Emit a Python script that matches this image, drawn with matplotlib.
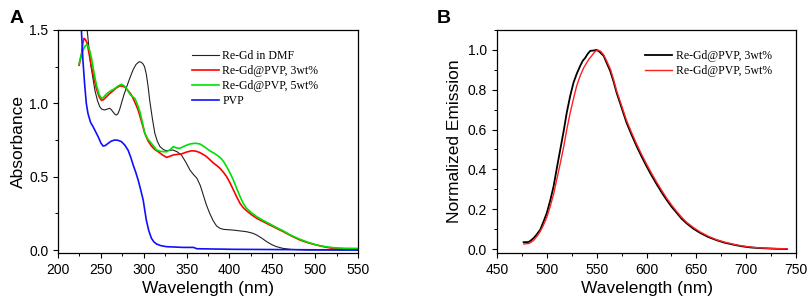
import numpy as np
import matplotlib.pyplot as plt
from matplotlib.ticker import MultipleLocator

# panneau A : absorbance
wl_dmf = [232, 234, 238, 243, 246, 248.7, 251, 254.6, 258, 260.4, 262, 264, 266, 268, 270, 272, 274, 277, 280,
          284, 287.7, 291, 294.7, 297, 299, 301, 303, 305, 307, 310, 313, 316, 319, 323, 326.6, 334, 339, 344,
          349, 354, 358, 362, 366, 369.5, 373, 377, 381, 385, 389, 393, 404.6, 420, 427, 432, 438, 443.6, 449,
          455, 462, 471, 490, 550]
abs_dmf = [1.62, 1.5, 1.27, 1.09, 1.02, 0.977, 0.96, 0.955, 0.962, 0.966, 0.958, 0.943, 0.928, 0.92, 0.93, 0.96,
           1.0, 1.06, 1.11, 1.175, 1.23, 1.265, 1.284, 1.28, 1.27, 1.25, 1.2, 1.12, 1.02, 0.9, 0.795, 0.74, 0.705,
           0.685, 0.677, 0.682, 0.67, 0.648, 0.6, 0.545, 0.515, 0.49, 0.44, 0.375, 0.31, 0.25, 0.2, 0.164, 0.148,
           0.141, 0.136, 0.125, 0.115, 0.102, 0.08, 0.057, 0.038, 0.023, 0.012, 0.005, 0.0, 0.0]

wl_3 = [224.6, 227.3, 229, 230.4, 232, 234, 236.5, 239, 242, 244.8, 248, 250.7, 253, 256.5, 260, 264.3, 268, 272,
        275, 278, 282, 285.7, 289.5, 293.5, 297.5, 301.3, 305, 309, 313, 317, 322, 326.6, 330, 334.5, 339, 344,
        350, 356, 361, 365.6, 369.5, 373.4, 377, 381, 385, 389, 393, 396.8, 400.7, 404.6, 408.5, 412.4, 416,
        420, 426, 432, 440, 447.5, 455, 463, 472, 482.5, 492, 502, 512, 521.5, 535, 550]
abs_3 = [1.26, 1.33, 1.41, 1.443, 1.435, 1.41, 1.33, 1.25, 1.17, 1.10, 1.045, 1.02, 1.025, 1.045, 1.065, 1.086,
         1.105, 1.118, 1.118, 1.11, 1.085, 1.057, 1.01, 0.955, 0.875, 0.795, 0.745, 0.709, 0.685, 0.67, 0.648,
         0.632, 0.638, 0.648, 0.652, 0.655, 0.668, 0.677, 0.674, 0.664, 0.651, 0.636, 0.617, 0.595, 0.577, 0.557,
         0.53, 0.5, 0.458, 0.41, 0.362, 0.318, 0.29, 0.268, 0.24, 0.216, 0.192, 0.17, 0.148, 0.125, 0.097, 0.068,
         0.049, 0.034, 0.02, 0.011, 0.007, 0.005]

wl_5 = [224.6, 227, 229, 231.5, 234, 236.5, 239, 242, 244.8, 248, 250.7, 253, 256.5, 261, 266, 270, 274, 277, 280,
        284.6, 287, 289.6, 292.5, 295.5, 298.5, 301.3, 305, 309, 315, 320, 326.6, 331, 334.5, 338, 342, 348, 354,
        360, 365.6, 371, 377, 383, 389, 393, 396.8, 400.7, 404.6, 408.5, 412.4, 416, 420, 426, 432, 440, 447.5,
        455, 463, 472, 482.5, 492, 502, 512, 521.5, 535, 550]
abs_5 = [1.27, 1.33, 1.36, 1.39, 1.40, 1.37, 1.31, 1.21, 1.125, 1.06, 1.034, 1.04, 1.064, 1.083, 1.10, 1.118, 1.13,
         1.12, 1.10, 1.057, 1.045, 1.034, 0.995, 0.943, 0.87, 0.795, 0.755, 0.727, 0.682, 0.672, 0.67, 0.685, 0.705,
         0.697, 0.693, 0.71, 0.723, 0.728, 0.723, 0.703, 0.677, 0.657, 0.632, 0.605, 0.568, 0.525, 0.477, 0.42,
         0.364, 0.32, 0.284, 0.253, 0.227, 0.2, 0.177, 0.153, 0.13, 0.1, 0.073, 0.052, 0.034, 0.023, 0.016, 0.012,
         0.011]

wl_pvp = [226, 227.3, 229, 231, 233, 235, 238, 241, 244, 246.8, 250, 252.6, 255, 258.5, 262, 266, 270, 274, 278,
          281.8, 285, 287.7, 291, 293.5, 296.5, 299.4, 301, 303, 306, 309, 312, 315, 320, 326.6, 346, 358, 362,
          404.6, 550]
abs_pvp = [1.65, 1.5, 1.3, 1.136, 1.0, 0.93, 0.87, 0.84, 0.805, 0.773, 0.73, 0.709, 0.712, 0.727, 0.742, 0.75, 0.748,
           0.739, 0.715, 0.68, 0.63, 0.58, 0.525, 0.477, 0.41, 0.34, 0.28, 0.205, 0.13, 0.08, 0.055, 0.041, 0.03,
           0.023, 0.018, 0.018, 0.009, 0.005, 0.0]

# panneau B : émission normalisée
wl_em3 = [476.7, 481.7, 484, 486.8, 490, 493.4, 496.5, 500, 503.5, 506.8, 510, 513.5, 517, 520, 523.5, 526.8, 530,
          533.5, 536, 538.5, 541, 543.5, 547, 550, 553, 557, 560, 563.6, 567, 570, 575, 580, 585, 590, 595, 600,
          605, 610, 615, 620, 625, 630.4, 635, 640.4, 647, 653.8, 662, 670.5, 678, 687, 695, 704, 712, 720.6, 730,
          740.7]
em3 = [0.034, 0.035, 0.043, 0.055, 0.074, 0.097, 0.135, 0.181, 0.245, 0.315, 0.405, 0.5, 0.595, 0.685, 0.77, 0.836,
       0.88, 0.92, 0.945, 0.96, 0.98, 0.995, 0.997, 1.0, 0.99, 0.97, 0.935, 0.894, 0.84, 0.785, 0.71, 0.634, 0.574,
       0.517, 0.465, 0.416, 0.37, 0.327, 0.286, 0.248, 0.213, 0.181, 0.153, 0.128, 0.102, 0.081, 0.06, 0.044, 0.032,
       0.022, 0.014, 0.008, 0.005, 0.003, 0.001, 0.0]

wl_em5 = [477, 482, 484.5, 487, 490, 493, 496.5, 500, 503.5, 507, 510, 513.5, 517, 520, 523.5, 527, 530, 533.5, 537,
          540, 542.5, 545, 548, 551, 554, 557, 560, 564, 567, 570, 575, 580, 585, 590, 595, 600, 605, 610, 615, 620,
          625, 630, 635, 640, 647, 654, 662, 670, 678, 687, 695, 704, 712, 720, 730, 741]
em5 = [0.025, 0.028, 0.035, 0.045, 0.063, 0.085, 0.118, 0.16, 0.215, 0.28, 0.35, 0.43, 0.515, 0.60, 0.685, 0.76,
       0.82, 0.87, 0.91, 0.935, 0.955, 0.97, 0.99, 1.0, 0.993, 0.975, 0.945, 0.9, 0.85, 0.795, 0.72, 0.645, 0.585,
       0.528, 0.476, 0.427, 0.381, 0.337, 0.296, 0.257, 0.222, 0.19, 0.161, 0.135, 0.108, 0.085, 0.064, 0.047,
       0.035, 0.024, 0.016, 0.01, 0.006, 0.004, 0.002, 0.001]

plt.rcParams['font.family'] = ['Liberation Sans', 'DejaVu Sans']

fig = plt.figure(figsize=(8.09, 3.02), dpi=100)
axA = fig.add_axes([0.0717, 0.1623, 0.3708, 0.7384])
axB = fig.add_axes([0.6143, 0.1623, 0.3697, 0.7384])

legfont = {'family': ['Liberation Serif', 'DejaVu Serif'], 'size': 8.5}

axA.plot(wl_dmf, abs_dmf, color='#222222', lw=0.8, label='Re-Gd in DMF')
axA.plot(wl_3, abs_3, color='#ff0000', lw=1.2, label='Re-Gd@PVP, 3wt%')
axA.plot(wl_5, abs_5, color='#00e000', lw=1.2, label='Re-Gd@PVP, 5wt%')
axA.plot(wl_pvp, abs_pvp, color='#1010ff', lw=1.2, label='PVP')
axA.set_xlim(200, 550)
axA.set_ylim(-0.02, 1.5)
axA.xaxis.set_major_locator(MultipleLocator(50))
axA.xaxis.set_minor_locator(MultipleLocator(25))
axA.yaxis.set_major_locator(MultipleLocator(0.5))
axA.yaxis.set_minor_locator(MultipleLocator(0.25))
axA.set_xlabel('Wavelength (nm)', fontsize=12.5, labelpad=3)
axA.set_ylabel('Absorbance', fontsize=12.5, labelpad=2)
axA.legend(loc='upper left', bbox_to_anchor=(0.43, 0.93), frameon=False, prop=legfont,
           handlelength=2.3, handletextpad=0.3, labelspacing=0.25, borderaxespad=0)
axA.text(-0.16, 1.09, 'A', transform=axA.transAxes, fontsize=14, fontweight='bold', va='top')

axB.plot(wl_em3, em3, color='black', lw=1.3, label='Re-Gd@PVP, 3wt%')
axB.plot(wl_em5, em5, color='#ff2020', lw=1.0, label='Re-Gd@PVP, 5wt%')
axB.set_xlim(450, 750)
axB.set_ylim(-0.02, 1.1)
axB.xaxis.set_major_locator(MultipleLocator(50))
axB.xaxis.set_minor_locator(MultipleLocator(25))
axB.yaxis.set_major_locator(MultipleLocator(0.2))
axB.yaxis.set_minor_locator(MultipleLocator(0.1))
axB.set_xlabel('Wavelength (nm)', fontsize=12.5, labelpad=3)
axB.set_ylabel('Normalized Emission', fontsize=12.5, labelpad=4)
axB.legend(loc='upper left', bbox_to_anchor=(0.48, 0.93), frameon=False, prop=legfont,
           handlelength=2.3, handletextpad=0.3, labelspacing=0.25, borderaxespad=0)
axB.text(-0.2, 1.09, 'B', transform=axB.transAxes, fontsize=14, fontweight='bold', va='top')

for ax in (axA, axB):
    ax.tick_params(which='major', direction='out', length=3.5, width=0.8, labelsize=10)
    ax.tick_params(which='minor', direction='out', length=2, width=0.7)
    for s in ax.spines.values():
        s.set_linewidth(0.9)

fig.savefig('out.png', dpi=100)
